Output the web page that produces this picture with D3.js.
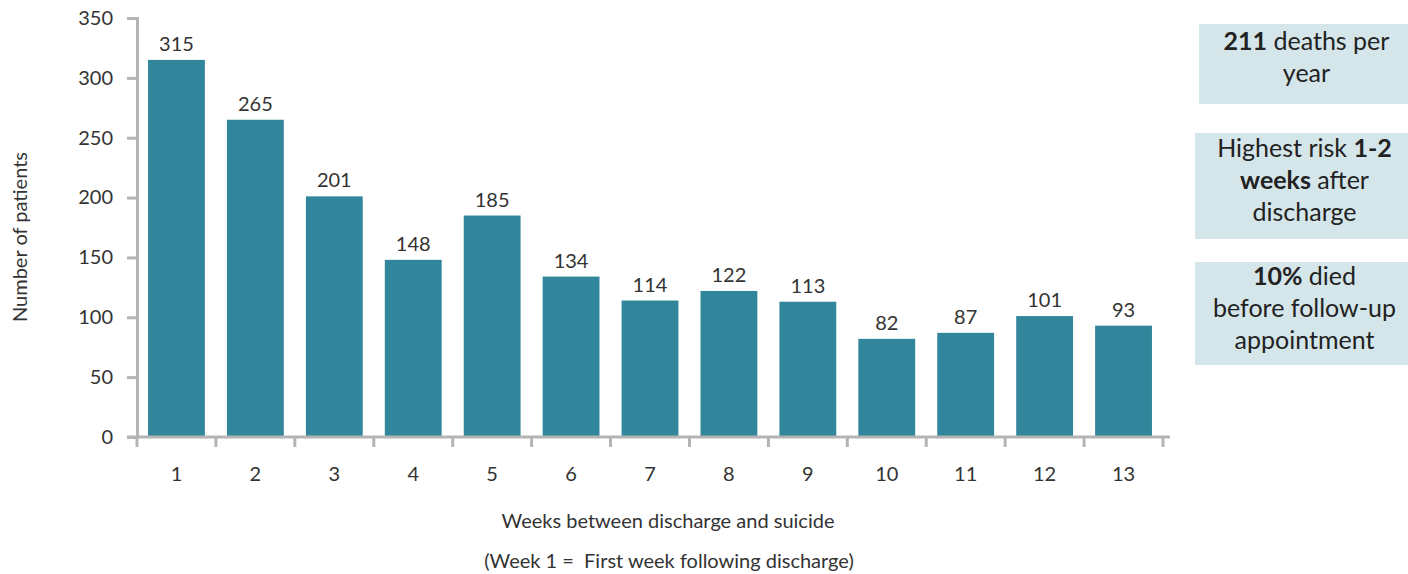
<!DOCTYPE html>
<html>
<head>
<meta charset="utf-8">
<script src="https://cdn.jsdelivr.net/npm/d3@7"></script>
<style>
  html, body { margin: 0; padding: 0; background: #fff; }
  svg { display: block; font-family: Lato, "Open Sans", sans-serif; }
</style>
</head>
<body>
<svg id="chart" width="1408" height="574"></svg>
<script>
// Weeks after discharge and the number of patients who died in each week
const weeks = ["1", "2", "3", "4", "5", "6", "7", "8", "9", "10", "11", "12", "13"];
const patients = [315, 265, 201, 148, 185, 134, 114, 122, 113, 82, 87, 101, 93];
const yTicks = [0, 50, 100, 150, 200, 250, 300, 350];

// Key facts shown in the side panels (bold runs marked b:true)
const factLines = [
  [[{ t: "211", b: true }, { t: " deaths per" }], [{ t: "year" }]],
  [[{ t: "Highest risk " }, { t: "1-2", b: true }], [{ t: "weeks", b: true }, { t: " after" }], [{ t: "discharge" }]],
  [[{ t: "10%", b: true }, { t: " died" }], [{ t: "before follow-up" }], [{ t: "appointment" }]]
];
// Panel geometry: x, y, width, height, first baseline
const panelLayout = [
  [1199, 24, 209, 80, 50],
  [1195, 133, 213, 106, 157],
  [1195, 262, 213, 103, 285]
];

const svg = d3.select("#chart");
const axisColor = "#b4b4b4";
const textColor = "#333";
const fs = 20;

const x = d3.scaleBand().domain(weeks).range([137, 1163]).paddingInner(0.28).paddingOuter(0.14);
const y = d3.scaleLinear().domain([0, 350]).range([437, 18]);

// Bars
svg.append("g").selectAll("rect")
  .data(patients)
  .join("rect")
  .attr("x", (d, i) => x(weeks[i]))
  .attr("y", d => y(d))
  .attr("width", x.bandwidth())
  .attr("height", d => y(0) - y(d))
  .attr("fill", "#31869b");

// Value labels
svg.append("g").selectAll("text")
  .data(patients)
  .join("text")
  .attr("x", (d, i) => x(weeks[i]) + x.bandwidth() / 2)
  .attr("y", d => y(d) - 9)
  .attr("text-anchor", "middle")
  .attr("font-size", fs)
  .attr("fill", textColor)
  .text(d => d);

// Y axis
const yAxis = svg.append("g")
  .attr("transform", "translate(137,0)")
  .call(d3.axisLeft(y).tickValues(yTicks).tickSize(10).tickPadding(14));
yAxis.select(".domain").attr("stroke", axisColor).attr("stroke-width", 3);
yAxis.selectAll(".tick line").attr("stroke", axisColor).attr("stroke-width", 3);
yAxis.selectAll(".tick text").attr("font-size", fs).attr("fill", textColor).attr("font-family", "Lato, 'Open Sans', sans-serif");

// X axis: line with boundary ticks between bands
const xg = svg.append("g");
xg.append("line")
  .attr("x1", 127).attr("x2", 1170)
  .attr("y1", y(0)).attr("y2", y(0))
  .attr("stroke", axisColor).attr("stroke-width", 3);
const boundaries = weeks.map(w => x(w) - x.step() * x.paddingInner() / 2)
  .concat([x(weeks[weeks.length - 1]) + x.bandwidth() + x.step() * x.paddingInner() / 2]);
xg.selectAll("line.tick")
  .data(boundaries)
  .join("line")
  .attr("class", "tick")
  .attr("x1", d => d).attr("x2", d => d)
  .attr("y1", y(0)).attr("y2", y(0) + 10)
  .attr("stroke", axisColor).attr("stroke-width", 3);
xg.selectAll("text")
  .data(weeks)
  .join("text")
  .attr("x", d => x(d) + x.bandwidth() / 2)
  .attr("y", 481)
  .attr("text-anchor", "middle")
  .attr("font-size", fs)
  .attr("fill", textColor)
  .text(d => d);

// Axis titles
svg.append("text")
  .attr("transform", "translate(27,237) rotate(-90)")
  .attr("text-anchor", "middle")
  .attr("font-size", fs)
  .attr("fill", textColor)
  .text("Number of patients");
svg.append("text")
  .attr("x", 668).attr("y", 528)
  .attr("text-anchor", "middle")
  .attr("font-size", fs)
  .attr("fill", textColor)
  .text("Weeks between discharge and suicide");
svg.append("text")
  .attr("x", 669).attr("y", 568)
  .attr("text-anchor", "middle")
  .attr("font-size", fs)
  .attr("fill", textColor)
  .attr("xml:space", "preserve")
  .text("(Week 1 =  First week following discharge)");

// Fact panels
factLines.forEach((lines, k) => {
  const [bx, by, bw, bh, base] = panelLayout[k];
  const g = svg.append("g");
  g.append("rect").attr("x", bx).attr("y", by).attr("width", bw).attr("height", bh).attr("fill", "#d5e6ea");
  const lh = 32;
  lines.forEach((runs, i) => {
    const t = g.append("text")
      .attr("x", bx + bw / 2 + 3)
      .attr("y", base + i * lh)
      .attr("text-anchor", "middle")
      .attr("font-size", 25)
      .attr("fill", "#222")
      .attr("xml:space", "preserve");
    runs.forEach(r => {
      t.append("tspan").attr("font-weight", r.b ? 700 : 400).text(r.t);
    });
  });
});
</script>
</body>
</html>
